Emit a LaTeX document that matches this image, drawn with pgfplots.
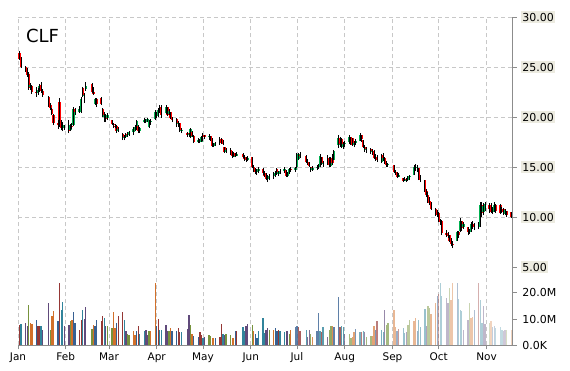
\documentclass[border=0pt]{standalone}
\usepackage{fontspec}
\setmainfont{DejaVu Sans}
\usepackage{pgfplots}
\usepackage{pgfplotstable}
\pgfplotsset{compat=1.18}
\definecolor{vr}{HTML}{953735}
\definecolor{vb}{HTML}{376092}
\definecolor{vo}{HTML}{D2702A}
\definecolor{vg}{HTML}{77933C}
\definecolor{vp}{HTML}{604A7B}
\definecolor{vt}{HTML}{31849B}
\definecolor{gridc}{HTML}{C8C8C8}
\definecolor{axc}{HTML}{8C8C8C}
\definecolor{lblbg}{HTML}{ECEBE0}
\definecolor{cup}{HTML}{00B050}
\definecolor{cdn}{HTML}{FF0000}

\pgfplotstableread{
d o h l c v
1 26.4 26.6 25.7 25.8 7.8
2 25.9 26.0 24.9 25.0 8.2
5 25.0 25.1 24.5 24.7 8.7
6 24.7 24.9 24.0 24.2 7.2
7 24.3 24.5 22.7 22.9 15.5
8 23.0 23.4 22.7 23.2 8.7
9 23.1 23.2 22.3 22.5 8.2
12 22.5 23.0 22.0 22.4 9.7
13 22.4 22.9 22.2 22.7 7.4
14 22.7 23.3 22.5 23.1 7.2
15 23.2 23.5 22.4 22.6 7.2
16 22.6 22.8 22.0 22.2 6.0
20 22.0 22.1 21.0 21.2 16.2
21 21.2 21.4 20.7 20.9 5.9
22 20.8 20.9 20.2 20.3 11.0
23 20.2 20.3 19.2 19.4 13.0
26 19.4 19.7 18.8 19.2 9.1
27 21.5 21.9 19.0 19.3 23.6
28 19.4 19.7 18.7 18.9 13.6
29 18.9 19.5 18.6 19.2 16.4
30 18.9 19.2 18.7 19.1 7.4
33 19.1 19.7 18.4 18.6 7.8
34 18.7 19.3 18.6 19.2 9.1
35 19.1 19.4 18.8 19.0 9.5
36 19.2 21.0 19.1 20.8 12.6
37 20.8 20.9 20.2 20.5 8.7
40 20.5 21.1 20.4 20.8 6.0
41 20.6 22.0 20.4 21.8 9.5
42 22.9 23.0 22.0 22.2 13.6
43 22.1 22.4 21.4 22.2 10.0
44 22.8 23.5 22.6 23.1 14.5
48 23.3 23.4 22.4 22.5 6.3
49 22.5 23.0 22.2 22.3 7.8
50 21.3 21.9 21.2 21.8 7.4
51 21.8 21.9 21.0 21.3 9.7
54 21.9 22.0 21.2 21.3 9.1
55 20.8 20.9 20.0 20.1 11.3
56 20.0 20.5 19.5 20.2 10.4
57 20.1 20.3 19.5 19.8 7.4
58 19.9 20.4 19.7 20.2 7.2
61 19.7 19.7 19.2 19.3 6.7
62 19.3 19.4 18.9 19.2 12.8
63 19.1 19.3 18.9 19.0 6.7
64 19.1 19.2 18.4 18.6 8.7
65 18.6 19.0 18.5 18.8 11.3
68 18.3 18.4 17.7 17.9 12.8
69 17.9 18.2 17.7 18.0 9.7
70 18.0 18.4 17.9 18.3 5.3
71 18.3 18.5 18.0 18.2 4.4
72 18.2 18.6 18.1 18.5 4.0
75 18.5 19.0 18.2 18.8 5.3
76 18.8 19.2 18.6 19.0 4.0
77 18.8 19.7 18.7 19.6 5.6
78 19.1 19.2 18.4 18.6 7.4
79 18.6 19.0 18.4 18.9 4.4
82 19.5 19.9 19.4 19.7 5.3
83 19.7 19.8 19.4 19.5 5.9
84 19.5 19.9 19.5 19.8 4.0
85 19.0 19.7 18.9 19.6 5.6
86 19.5 19.8 19.2 19.6 5.5
89 19.8 20.7 19.7 20.5 23.6
90 20.5 20.5 19.9 20.1 7.4
91 20.1 20.9 20.0 20.7 10.0
92 20.7 21.2 20.4 21.0 5.9
93 21.0 21.2 19.9 20.2 5.9
96 20.4 21.2 20.3 21.0 7.8
97 21.0 21.0 20.1 20.2 5.3
98 20.3 20.8 20.2 20.6 5.3
99 20.5 20.5 19.8 19.9 6.5
100 19.9 20.0 19.5 19.7 5.6
103 19.8 19.9 19.0 19.3 5.3
104 19.3 19.6 19.0 19.4 6.5
105 19.4 19.4 18.5 18.6 4.9
106 18.6 18.9 18.4 18.7 4.9
110 18.4 18.5 18.0 18.2 6.3
111 18.2 18.4 18.0 18.3 11.7
112 18.0 18.9 17.9 18.8 7.8
113 18.5 18.6 18.0 18.1 4.4
114 18.1 18.2 17.4 17.5 3.7
117 17.5 17.9 17.4 17.7 3.3
118 17.7 17.8 17.4 17.5 4.9
119 17.5 18.1 17.5 18.0 4.0
120 18.0 18.4 17.6 18.2 2.7
121 18.2 18.2 17.8 18.0 3.3
124 18.0 18.3 17.7 18.1 4.0
125 18.1 18.1 17.6 17.7 3.6
126 17.8 17.9 17.0 17.1 2.7
127 17.1 17.4 17.0 17.3 2.7
128 17.3 17.5 17.1 17.4 2.7
131 17.5 18.0 17.2 17.8 3.3
132 17.8 17.9 17.3 17.4 8.2
133 17.4 17.7 17.2 17.3 4.4
134 17.0 17.0 16.4 16.5 4.0
135 16.5 16.9 16.4 16.7 4.4
138 16.7 16.9 16.2 16.3 4.0
139 16.3 16.6 15.9 16.1 2.7
140 16.0 16.5 16.0 16.4 2.6
141 16.4 16.4 16.0 16.1 5.6
142 16.1 16.5 16.1 16.3 5.3
146 16.3 16.4 15.9 16.0 6.9
147 16.0 16.2 15.6 15.8 5.6
148 15.8 16.0 15.5 15.7 7.2
149 15.7 16.1 15.6 15.9 8.2
152 16.0 16.0 14.9 15.0 7.8
153 15.0 15.2 14.5 14.7 5.3
154 14.7 14.9 14.3 14.5 4.4
155 14.5 14.8 14.2 14.6 2.7
156 14.6 15.0 14.4 14.8 5.3
159 14.8 14.9 14.2 14.4 10.4
160 14.4 14.6 14.0 14.1 4.7
161 14.1 14.4 13.7 13.8 5.9
162 13.8 14.2 13.5 13.9 6.5
163 13.9 14.3 13.7 14.1 5.9
166 14.1 14.5 13.8 14.3 5.9
167 14.3 14.6 14.0 14.4 6.5
168 14.8 14.9 14.2 14.3 5.6
169 14.3 14.6 14.1 14.5 5.9
170 14.5 14.8 14.3 14.6 5.3
173 14.6 15.0 14.4 14.8 5.0
174 14.7 14.7 14.0 14.1 5.3
175 14.1 14.5 14.0 14.3 5.3
176 14.3 14.9 14.3 14.8 4.4
177 14.8 15.0 14.5 14.7 5.9
180 14.7 15.0 14.5 14.9 6.9
181 15.0 16.4 14.9 16.2 7.4
182 15.8 16.4 15.7 16.3 6.9
183 16.2 16.5 15.9 16.1 5.3
187 16.1 16.2 15.4 15.5 5.9
188 15.5 15.8 15.2 15.3 3.3
189 15.3 15.5 15.0 15.1 5.9
190 15.0 15.0 14.5 14.7 4.4
191 14.7 15.1 14.6 14.9 3.3
194 14.9 15.2 14.7 15.0 5.5
195 15.0 15.3 14.8 15.1 12.3
196 15.1 16.3 15.0 16.1 5.5
197 16.0 16.0 15.2 15.3 4.9
198 15.3 15.6 15.0 15.4 6.8
201 15.4 16.2 15.2 15.9 3.3
202 15.9 16.0 15.0 15.2 5.9
203 15.1 16.0 15.0 15.9 7.4
204 15.9 16.3 15.2 15.4 7.4
205 15.7 16.7 15.7 16.6 6.9
208 17.2 18.2 16.9 17.9 18.5
209 17.9 18.0 17.0 17.3 6.9
210 17.8 17.9 16.9 17.0 7.4
211 17.0 17.5 16.8 17.3 6.9
212 17.3 17.6 17.0 17.4 4.4
215 17.5 18.2 17.3 18.0 4.4
216 18.0 18.0 17.2 17.5 2.7
217 17.9 17.9 17.1 17.2 3.3
218 17.2 17.6 17.0 17.4 4.9
219 17.4 17.8 17.2 17.6 6.2
222 17.6 18.4 17.6 18.2 4.9
223 18.2 18.2 17.5 17.8 4.9
224 17.7 17.7 16.9 17.0 5.3
225 17.0 17.2 16.5 16.7 4.9
226 16.7 17.0 16.4 16.8 3.3
229 16.8 16.9 16.3 16.5 3.6
230 16.5 16.8 16.2 16.6 3.6
231 16.6 16.7 15.8 15.9 7.2
232 15.9 16.3 15.6 16.0 5.9
233 16.0 16.2 15.5 15.7 9.4
236 15.5 16.3 15.4 16.2 5.9
237 16.2 16.4 15.6 15.9 4.9
238 15.9 16.0 15.3 15.4 13.3
239 15.4 15.6 15.0 15.2 7.8
240 15.2 15.4 15.0 15.3 8.7
244 15.2 15.2 14.4 14.5 13.3
245 14.5 14.7 14.2 14.4 6.8
246 14.4 14.5 13.9 14.0 5.3
247 14.0 14.4 14.0 14.2 6.2
250 13.9 13.9 13.5 13.6 6.5
251 13.6 14.0 13.6 13.8 4.6
252 13.8 13.9 13.5 13.7 4.9
253 13.7 14.1 13.6 14.0 7.8
254 14.0 14.2 13.7 14.1 9.7
257 14.2 15.2 14.2 15.0 9.1
258 15.0 15.3 14.6 14.9 10.4
259 14.9 15.2 14.5 15.0 5.6
260 14.9 14.9 13.7 13.8 9.7
261 13.8 14.2 13.5 13.7 6.9
264 13.7 13.7 12.5 12.6 13.8
265 12.6 12.8 12.0 12.2 7.2
266 12.2 12.5 11.4 11.6 15.1
267 11.6 12.0 11.2 11.4 14.2
268 11.5 11.5 10.7 10.8 12.0
271 10.8 10.9 10.1 10.3 16.2
272 10.3 10.7 10.0 10.2 18.7
273 10.4 10.5 9.5 9.6 19.7
274 9.6 9.8 9.2 9.5 23.6
275 9.6 9.7 8.2 8.4 18.7
278 8.4 8.7 8.0 8.2 18.1
279 8.2 8.5 7.9 8.1 16.2
280 8.2 8.2 7.5 7.6 21.9
281 7.8 7.9 7.1 7.3 17.4
282 7.3 7.6 6.9 7.2 23.6
285 7.6 8.6 7.6 8.5 23.6
286 8.5 8.6 7.9 8.2 17.7
287 8.6 9.9 8.5 9.6 13.6
288 9.6 9.6 8.6 8.9 13.0
289 9.0 9.5 8.8 9.3 5.9
292 9.0 9.0 8.2 8.5 9.7
293 8.5 8.8 8.3 8.7 16.2
294 8.7 9.5 8.5 9.3 10.4
295 9.3 9.6 8.8 9.1 10.8
296 9.1 9.4 8.7 9.0 13.3
299 9.0 9.5 8.8 9.2 23.6
300 9.2 11.5 9.0 11.2 17.4
301 11.2 11.5 10.0 10.4 8.5
302 10.5 11.4 10.2 11.1 14.9
303 11.1 11.5 10.6 11.3 8.2
306 11.2 11.4 10.4 10.8 8.5
307 11.2 11.4 10.4 10.5 9.1
308 10.5 11.0 10.3 10.8 6.9
309 10.8 11.5 10.5 11.2 7.2
310 11.2 11.3 10.4 10.6 6.5
313 11.2 11.3 10.3 10.4 6.9
314 10.5 11.0 10.4 10.8 5.9
315 10.8 10.9 10.2 10.5 5.5
316 10.3 10.8 10.2 10.7 5.9
317 10.6 10.6 10.0 10.2 5.9
320 10.5 10.5 9.9 10.0 5.9
}\data
\pgfplotstablecreatecol[create col/expr={\thisrow{c}>\thisrow{o}}]{up}\data
\pgfplotstablecreatecol[create col/expr={mod(\pgfplotstablerow*5+floor(\pgfplotstablerow/3),6)}]{k}\data

\begin{document}
\begin{tikzpicture}
\useasboundingbox (-18pt,-24.7pt) rectangle (552pt,345.3pt);
\begin{axis}[
  at={(0pt,0pt)}, anchor=south west,
  scale only axis, width=494.7pt, height=328.3pt,
  xmin=0, xmax=321, ymin=-2.83, ymax=30,
  axis x line*=bottom, axis y line*=right,
  axis line style={axc, line width=1pt},
  tick style={axc, line width=0.8pt},
  tick align=outside, major tick length=4pt,
  xtick={0,31,59,90,120,151,181,212,243,273,304},
  xticklabels={Jan,Feb,Mar,Apr,May,Jun,Jul,Aug,Sep,Oct,Nov},
  ytick={10,15,20,25,30},
  yticklabels={10.00,15.00,20.00,25.00,30.00},
  extra y ticks={5}, extra y tick labels={5.00},
  extra y tick style={grid=none},
  xmajorgrids, ymajorgrids,
  grid style={gridc, dash pattern=on 4pt off 3pt, line width=0.8pt},
  yticklabel style={font=\fontsize{11}{13}\selectfont, fill=lblbg, inner sep=1.5pt, xshift=4pt},
  xticklabel style={font=\fontsize{10.5}{12}\selectfont},
  colormap={rg}{color=(cdn) color=(cup)},
  colormap access=piecewise constant,
  point meta min=0, point meta max=1,
]
\addplot[line width=2.3pt, mark=none, point meta=explicit,
  quiver={u=0, v=\thisrow{c}-\thisrow{o}, colored=mapped color}]
  table[x=d, y=o, meta=up] {\data};
\addplot[black, line width=0.9pt, mark=none,
  quiver={u=0, v=\thisrow{h}-\thisrow{l}}]
  table[x=d, y=l] {\data};
\node[anchor=base west, inner sep=0pt, font=\fontsize{18}{18}\selectfont]
  at (axis description cs:0.016,0.921) {CLF};
\end{axis}
\begin{axis}[
  at={(0pt,0pt)}, anchor=south west,
  scale only axis, width=494.7pt, height=328.3pt,
  xmin=0, xmax=321, ymin=0, ymax=125.3,
  axis x line=none, axis y line*=right,
  axis line style={axc, line width=1pt},
  tick style={axc, line width=0.8pt},
  tick align=outside, major tick length=4pt,
  ytick={0,10,20},
  yticklabels={0.0K,10.0M,20.0M},
  yticklabel style={font=\fontsize{11}{13}\selectfont, inner sep=1.5pt, xshift=4pt},
  colormap={vol}{color=(vr) color=(vb) color=(vo) color=(vg) color=(vp) color=(vt)},
  colormap access=piecewise constant,
  point meta min=0, point meta max=5,
]
\addplot[line width=1.3pt, mark=none, point meta=explicit, restrict x to domain=0:179,
  quiver={u=0, v=\thisrow{v}, colored=mapped color}]
  table[x=d, y expr=0, meta=k] {\data};
\addplot[line width=1.3pt, mark=none, opacity=0.8, point meta=explicit, restrict x to domain=180:211,
  quiver={u=0, v=\thisrow{v}, colored=mapped color}]
  table[x=d, y expr=0, meta=k] {\data};
\addplot[line width=1.3pt, mark=none, opacity=0.65, point meta=explicit, restrict x to domain=212:242,
  quiver={u=0, v=\thisrow{v}, colored=mapped color}]
  table[x=d, y expr=0, meta=k] {\data};
\addplot[line width=1.3pt, mark=none, opacity=0.5, point meta=explicit, restrict x to domain=243:272,
  quiver={u=0, v=\thisrow{v}, colored=mapped color}]
  table[x=d, y expr=0, meta=k] {\data};
\addplot[line width=1.3pt, mark=none, opacity=0.4, point meta=explicit, restrict x to domain=273:303,
  quiver={u=0, v=\thisrow{v}, colored=mapped color}]
  table[x=d, y expr=0, meta=k] {\data};
\addplot[line width=1.3pt, mark=none, opacity=0.3, point meta=explicit, restrict x to domain=304:330,
  quiver={u=0, v=\thisrow{v}, colored=mapped color}]
  table[x=d, y expr=0, meta=k] {\data};
\end{axis}
\end{tikzpicture}
\end{document}
